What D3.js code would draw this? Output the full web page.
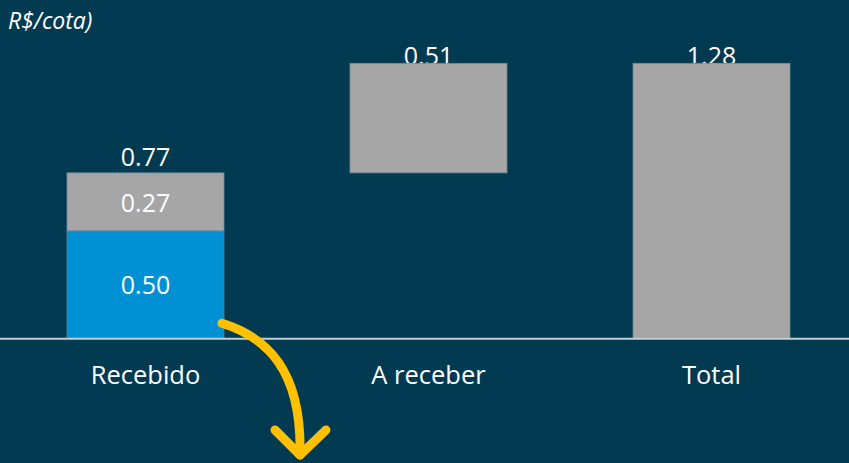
<!DOCTYPE html>
<html>
<head>
<meta charset="utf-8">
<script src="https://cdn.jsdelivr.net/npm/d3@7"></script>
<style>
  html, body { margin: 0; padding: 0; background: #023a52; }
  svg { display: block; }
</style>
</head>
<body>
<svg id="chart" width="849" height="463"></svg>
<script>
// ---- data ----
const categories = ["Recebido", "A receber", "Total"];
const received = [0.50, 0, 0];          // blue part (already paid)
const grey = [0.27, 0.51, 1.28];        // grey part
const totalLabels = ["0.77", "0.51", "1.28"];
const receivedLabels = ["0.50", "", ""];
const greyLabels = ["0.27", "", ""];
const unitLabel = "R$/cota)";

// ---- layout ----
const W = 849, H = 463;
const svg = d3.select("#chart");
svg.append("rect").attr("width", W).attr("height", H).attr("fill", "#023a52");

const x = d3.scaleBand().domain(categories).range([0, 857]).paddingInner(0.4452).paddingOuter(0.2367);
const y = d3.scaleLinear().domain([0, 1.28]).range([338.3, 63.3]);

// waterfall bases
const bases = [0, received[0] + grey[0], 0];
const rows = categories.map((c, i) => {
  const start = i === 0 ? 0 : bases[i];
  const blueTop = start + received[i];
  const greyTop = blueTop + grey[i];
  return { c, i, start, blueTop, greyTop };
});

const font = "'Open Sans', 'Liberation Sans', sans-serif";

// value labels above bars (drawn before bars so bars overlap when clipped at top)
svg.selectAll("text.total").data(rows).join("text")
  .attr("class", "total")
  .attr("x", d => x(d.c) + x.bandwidth() / 2)
  .attr("y", d => Math.max(y(d.greyTop) - 7, 65))
  .attr("text-anchor", "middle")
  .attr("fill", "#ffffff")
  .attr("font-family", font)
  .attr("font-size", 25)
  .text(d => totalLabels[d.i]);

// blue segments
svg.selectAll("rect.blue").data(rows.filter(d => received[d.i] > 0)).join("rect")
  .attr("class", "blue")
  .attr("x", d => x(d.c))
  .attr("width", x.bandwidth())
  .attr("y", d => y(d.blueTop))
  .attr("height", d => y(d.start) - y(d.blueTop))
  .attr("fill", "#0090d4")
  .attr("stroke", "#5d8294").attr("stroke-width", 0.8);

// grey segments
svg.selectAll("rect.grey").data(rows).join("rect")
  .attr("class", "grey")
  .attr("x", d => x(d.c))
  .attr("width", x.bandwidth())
  .attr("y", d => y(d.greyTop))
  .attr("height", d => y(d.blueTop) - y(d.greyTop))
  .attr("fill", "#a6a6a6")
  .attr("stroke", "#6f8896").attr("stroke-width", 0.8);

// inside labels
svg.selectAll("text.inBlue").data(rows.filter(d => receivedLabels[d.i])).join("text")
  .attr("x", d => x(d.c) + x.bandwidth() / 2)
  .attr("y", d => (y(d.start) + y(d.blueTop)) / 2 + 9)
  .attr("text-anchor", "middle")
  .attr("fill", "#ffffff").attr("font-family", font).attr("font-size", 25)
  .text(d => receivedLabels[d.i]);

svg.selectAll("text.inGrey").data(rows.filter(d => greyLabels[d.i])).join("text")
  .attr("x", d => x(d.c) + x.bandwidth() / 2)
  .attr("y", d => (y(d.blueTop) + y(d.greyTop)) / 2 + 10)
  .attr("text-anchor", "middle")
  .attr("fill", "#ffffff").attr("font-family", font).attr("font-size", 25)
  .text(d => greyLabels[d.i]);

// baseline axis
const axis = d3.axisBottom(x).tickSize(0).tickPadding(0);
const gx = svg.append("g").attr("transform", `translate(0,${y(0)})`).call(axis);
gx.select(".domain").remove();
gx.append("line").attr("x1", 0).attr("x2", W).attr("y1", 0.5).attr("y2", 0.5)
  .attr("stroke", "#c3cdd2").attr("stroke-width", 2);
gx.selectAll(".tick text")
  .attr("y", 46).attr("dy", 0)
  .attr("fill", "#ffffff").attr("font-family", font).attr("font-size", 25.5);

// unit label
svg.append("text").attr("x", 8).attr("y", 29)
  .attr("fill", "#ffffff").attr("font-family", font).attr("font-size", 23)
  .attr("font-style", "italic").text(unitLabel);

// yellow arrow
const arrowStart = [x(categories[0]) + x.bandwidth() - 2, y(0) - 15];
const arrowEnd = [300, 455];
const g = svg.append("g").attr("fill", "none").attr("stroke", "#ffc000")
  .attr("stroke-width", 9).attr("stroke-linecap", "round").attr("stroke-linejoin", "round");
g.append("path").attr("d", `M${arrowStart[0]},${arrowStart[1]} C${arrowStart[0] + 45},${arrowStart[1] + 14} ${arrowEnd[0] + 2},${arrowEnd[1] - 85} ${arrowEnd[0]},${arrowEnd[1]}`);
g.append("path").attr("d", `M${arrowEnd[0] - 25},${arrowEnd[1] - 25} L${arrowEnd[0]},${arrowEnd[1]} L${arrowEnd[0] + 26},${arrowEnd[1] - 25}`);
</script>
</body>
</html>
